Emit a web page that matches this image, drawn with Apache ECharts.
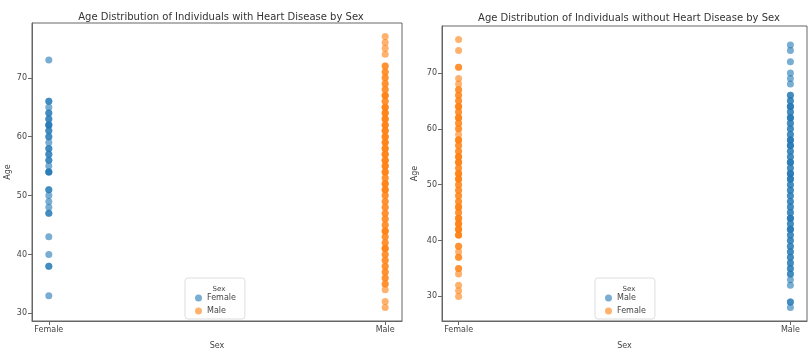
<!DOCTYPE html>
<html>
<head>
<meta charset="utf-8">
<script src="https://cdn.jsdelivr.net/npm/echarts@6/dist/echarts.min.js"></script>
<style>html,body{margin:0;padding:0;background:#fff}#c{width:809px;height:355px}</style>
</head>
<body>
<div id="c"></div>
<script>
const categories = ['Female', 'Male'];
const yTicks = [30, 40, 50, 60, 70];
const titles = ['Age Distribution of Individuals with Heart Disease by Sex', 'Age Distribution of Individuals without Heart Disease by Sex'];
// With heart disease
const withFemaleAges = [73, 66, 66, 65, 64, 64, 63, 63, 62, 62, 62, 61, 61, 60, 60, 59, 58, 58, 57, 57, 56, 56, 55, 54, 54, 54, 51, 51, 50, 49, 48, 47, 47, 43, 40, 38, 38, 33];
const withMaleAges = [77, 76, 75, 74, 72, 72, 71, 71, 70, 70, 69, 69, 68, 68, 67, 67, 67, 66, 66, 65, 65, 65, 64, 64, 64, 63, 63, 63, 62, 62, 62, 61, 61, 61, 60, 60, 60, 59, 59, 59, 58, 58, 58, 57, 57, 57, 56, 56, 56, 55, 55, 55, 54, 54, 54, 53, 53, 52, 52, 52, 51, 51, 51, 50, 50, 49, 49, 48, 48, 47, 47, 46, 46, 45, 45, 44, 44, 44, 43, 43, 42, 42, 41, 41, 41, 40, 40, 39, 39, 38, 38, 37, 37, 36, 36, 35, 35, 34, 32, 31];
// Without heart disease
const withoutMaleAges = [75, 74, 72, 70, 69, 68, 66, 66, 65, 65, 64, 64, 64, 63, 63, 62, 62, 62, 61, 61, 60, 60, 59, 59, 58, 58, 58, 57, 57, 57, 56, 56, 55, 55, 54, 54, 54, 53, 53, 52, 52, 52, 51, 51, 51, 50, 50, 49, 49, 48, 48, 47, 47, 46, 46, 45, 45, 44, 44, 44, 43, 43, 42, 42, 42, 41, 41, 40, 40, 39, 39, 38, 38, 37, 37, 36, 36, 35, 35, 34, 34, 33, 32, 29, 29, 28];
const withoutFemaleAges = [76, 74, 71, 71, 69, 68, 67, 67, 66, 66, 65, 65, 64, 64, 64, 63, 63, 62, 62, 62, 61, 61, 60, 60, 59, 58, 58, 58, 57, 57, 56, 56, 55, 55, 55, 54, 54, 54, 53, 53, 52, 52, 52, 51, 51, 51, 50, 50, 49, 49, 48, 48, 47, 47, 46, 46, 46, 45, 45, 44, 44, 44, 43, 43, 43, 42, 42, 42, 41, 41, 41, 39, 39, 38, 37, 37, 35, 35, 34, 32, 31, 30];

const BLUE = '#1f77b4', ORANGE = '#ff7f0e';
const FONT = 'DejaVu Sans';
const toPts = (idx, arr) => arr.map(a => [idx, a]);

function mkX(i) {
  return {
    type: 'value', gridIndex: i, min: -0.05, max: 1.05,
    name: 'Sex', nameLocation: 'middle', nameGap: 21,
    nameTextStyle: { fontFamily: FONT, fontSize: 8, color: '#444' },
    splitLine: { show: false },
    axisLine: { show: true, onZero: false, lineStyle: { color: '#666' } },
    axisTick: { show: true, length: 4, customValues: [0, 1], lineStyle: { color: '#666' } },
    axisLabel: { customValues: [0, 1], formatter: v => categories[Math.round(v)], fontFamily: FONT, fontSize: 8, color: '#444', margin: 5 }
  };
}
function mkY(i, min, max, gap) {
  return {
    type: 'value', gridIndex: i, min: min, max: max,
    name: 'Age', nameLocation: 'middle', nameGap: gap, nameRotate: 90,
    nameTextStyle: { fontFamily: FONT, fontSize: 8, color: '#444' },
    splitLine: { show: false },
    axisLine: { show: true, onZero: false, lineStyle: { color: '#666' } },
    axisTick: { show: true, length: 4, customValues: yTicks, lineStyle: { color: '#666' } },
    axisLabel: { customValues: yTicks, fontFamily: FONT, fontSize: 8, color: '#444', margin: 5 }
  };
}
function mkSeries(name, xi, data, color) {
  return {
    type: 'scatter', name: name, xAxisIndex: xi, yAxisIndex: xi, data: data,
    symbolSize: 7, itemStyle: { color: color, opacity: 0.6 }, silent: true, animation: false
  };
}
const legendCommon = {
  orient: 'vertical', itemWidth: 7, itemHeight: 7, itemGap: 5, icon: 'circle',
  borderColor: '#ddd', borderWidth: 1, borderRadius: 3, backgroundColor: 'rgba(255,255,255,0.8)',
  padding: [16, 9, 4, 10],
  textStyle: { fontFamily: FONT, fontSize: 8, color: '#444' },
  formatter: n => n.split(' ')[0],
  selectedMode: false
};

const option = {
  animation: false,
  title: [
    { text: titles[0], left: 216, top: 7, textAlign: 'center', textStyle: { fontFamily: FONT, fontSize: 10, fontWeight: 'normal', color: '#333' } },
    { text: titles[1], left: 624, top: 8, textAlign: 'center', textStyle: { fontFamily: FONT, fontSize: 10, fontWeight: 'normal', color: '#333' } },
    { text: 'Sex', left: 214, top: 281, textAlign: 'center', textStyle: { fontFamily: FONT, fontSize: 7, fontWeight: 'normal', color: '#444' } },
    { text: 'Sex', left: 624, top: 281, textAlign: 'center', textStyle: { fontFamily: FONT, fontSize: 7, fontWeight: 'normal', color: '#444' } }
  ],
  grid: [
    { left: 32, top: 23, width: 370, height: 304, show: true, borderColor: '#666', borderWidth: 1, backgroundColor: 'transparent' },
    { left: 442, top: 26, width: 365, height: 301, show: true, borderColor: '#666', borderWidth: 1, backgroundColor: 'transparent' }
  ],
  xAxis: [mkX(0), mkX(1)],
  yAxis: [mkY(0, 28.7, 79.3, 20), mkY(1, 25.6, 78.4, 23)],
  legend: [
    Object.assign({}, legendCommon, { left: 185, top: 278, data: ['Female with', 'Male with'] }),
    Object.assign({}, legendCommon, { left: 595, top: 278, data: ['Male without', 'Female without'] })
  ],
  series: [
    mkSeries('Female with', 0, toPts(0, withFemaleAges), BLUE),
    mkSeries('Male with', 0, toPts(1, withMaleAges), ORANGE),
    mkSeries('Male without', 1, toPts(1, withoutMaleAges), BLUE),
    mkSeries('Female without', 1, toPts(0, withoutFemaleAges), ORANGE)
  ]
};
const chart = echarts.init(document.getElementById('c'), null, { renderer: 'canvas' });
chart.setOption(option);
</script>
</body>
</html>
